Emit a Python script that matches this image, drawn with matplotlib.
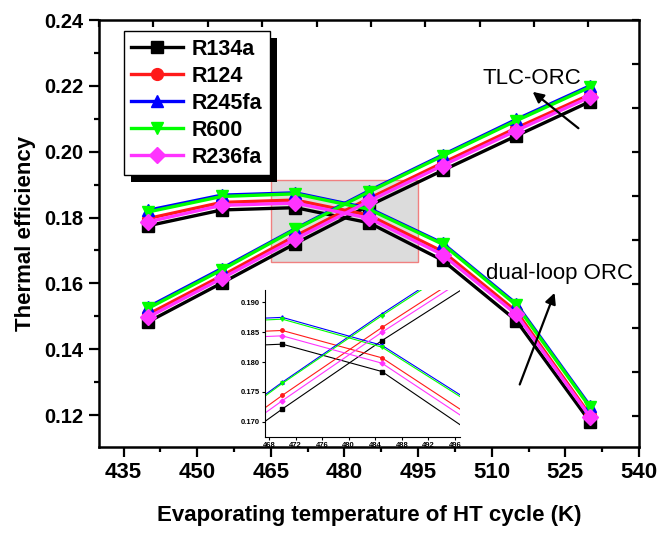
import numpy as np
import matplotlib
matplotlib.use("Agg")
import matplotlib.pyplot as plt
from matplotlib.patches import Rectangle
from matplotlib.ticker import MultipleLocator, FormatStrFormatter

plt.rcParams['font.family'] = ['Liberation Sans', 'DejaVu Sans']

# ---------------- data ----------------
temps = [440, 455, 470, 485, 500, 515, 530]
refrigerants = ["R134a", "R124", "R245fa", "R600", "R236fa"]

tlc_R134a  = [0.1483, 0.1601, 0.1721, 0.1836, 0.1943, 0.2048, 0.2152]
tlc_R124   = [0.1506, 0.1623, 0.1744, 0.1858, 0.1966, 0.2072, 0.2173]
tlc_R245fa = [0.1528, 0.1645, 0.1766, 0.1881, 0.1990, 0.2098, 0.2200]
tlc_R600   = [0.1524, 0.1641, 0.1764, 0.1878, 0.1987, 0.2094, 0.2196]
tlc_R236fa = [0.1497, 0.1615, 0.1735, 0.1850, 0.1958, 0.2064, 0.2166]

dual_R134a  = [0.1775, 0.1823, 0.1830, 0.1784, 0.1670, 0.1487, 0.1180]
dual_R124   = [0.1797, 0.1846, 0.1853, 0.1807, 0.1697, 0.1515, 0.1200]
dual_R245fa = [0.1822, 0.1868, 0.1875, 0.1828, 0.1722, 0.1538, 0.1228]
dual_R600   = [0.1817, 0.1864, 0.1872, 0.1825, 0.1719, 0.1534, 0.1224]
dual_R236fa = [0.1787, 0.1837, 0.1844, 0.1798, 0.1687, 0.1506, 0.1195]

tlc = [tlc_R134a, tlc_R124, tlc_R245fa, tlc_R600, tlc_R236fa]
dual = [dual_R134a, dual_R124, dual_R245fa, dual_R600, dual_R236fa]

colors = ["#000000", "#ff1a1a", "#0000ff", "#00ff00", "#ff33ff"]
markers = ["s", "o", "^", "v", "D"]

x_ticks = [435, 450, 465, 480, 495, 510, 525, 540]
y_ticks = [0.12, 0.14, 0.16, 0.18, 0.20, 0.22, 0.24]
inset_x_ticks = [468, 472, 476, 480, 484, 488, 492, 496]
inset_y_ticks = [0.170, 0.175, 0.180, 0.185, 0.190]

# ---------------- figure ----------------
W, H = 659, 534
fig = plt.figure(figsize=(W / 100, H / 100), dpi=100)
fig.patch.set_facecolor("white")

L, R, T, B = 99, 639, 20, 447
ax = fig.add_axes([L / W, (H - B) / H, (R - L) / W, (B - T) / H])

# zoom-region rectangle
ax.add_patch(Rectangle((465, 0.1665), 30, 0.025, facecolor="#dcdcdc",
                       edgecolor="#f08080", lw=1.0, zorder=1))

handles = []
for name, ys_t, ys_d, c, m in zip(refrigerants, tlc, dual, colors, markers):
    h, = ax.plot(temps, ys_t, color=c, marker=m, lw=2.4, ms=8.5,
                 markeredgecolor=c, zorder=3, label=name)
    ax.plot(temps, ys_d, color=c, marker=m, lw=2.4, ms=8.5,
            markeredgecolor=c, zorder=3)
    handles.append(h)

ax.set_xlim(430, 540)
ax.set_ylim(0.1103, 0.24)
ax.set_xticks(x_ticks)
ax.set_yticks(y_ticks)
ax.xaxis.set_minor_locator(MultipleLocator(7.5))
ax.yaxis.set_minor_locator(MultipleLocator(0.01))
ax.yaxis.set_major_formatter(FormatStrFormatter("%.2f"))
for s in ax.spines.values():
    s.set_linewidth(1.8)
ax.tick_params(which="major", direction="out", length=7, width=1.6, pad=4)
ax.tick_params(which="minor", direction="out", length=3.5, width=1.6)
ax.tick_params(axis="x", labelsize=16)
ax.tick_params(axis="y", labelsize=14.5)
for lab in ax.get_xticklabels() + ax.get_yticklabels():
    lab.set_fontweight("bold")

ax.set_xlabel("Evaporating temperature of HT cycle (K)", fontsize=16,
              fontweight="bold", labelpad=16)
ax.set_ylabel("Thermal efficiency", fontsize=16, fontweight="bold", labelpad=6)

# mirrored top / right ticks
axT = ax.twiny()
axT.set_xlim(0, 9.93)
axT.set_xticks(range(10))
axT.tick_params(axis="x", direction="in", length=5, width=1.6, labeltop=False)
axR = ax.twinx()
axR.set_ylim(9.7, 0)
axR.set_yticks(range(10))
axR.tick_params(axis="y", direction="in", length=5, width=1.6, labelright=False)
for a in (axT, axR):
    for s in a.spines.values():
        s.set_visible(False)

# annotations
ax.annotate("", xy=(517.9, 0.2187), xytext=(528.1, 0.2066),
            arrowprops=dict(arrowstyle="-|>", color="black", lw=1.6,
                            mutation_scale=16), zorder=6)
ax.text(518.1, 0.2223, "TLC-ORC", fontsize=16, ha="center", va="center")
ax.annotate("", xy=(523.0, 0.1579), xytext=(515.5, 0.1285),
            arrowprops=dict(arrowstyle="-|>", color="black", lw=1.6,
                            mutation_scale=16), zorder=6)
ax.text(523.8, 0.1630, "dual-loop ORC", fontsize=16, ha="center", va="center")

# legend
leg = ax.legend(handles=handles, loc="upper left",
                bbox_to_anchor=(0.046, 0.974), borderaxespad=0,
                prop={"weight": "bold", "size": 15.5},
                handlelength=2.4, labelspacing=0.28, borderpad=0.35,
                handletextpad=0.4, fancybox=False, framealpha=1,
                edgecolor="black")
leg.get_frame().set_linewidth(1.0)
leg.set_zorder(10)

# inset
iL, iR, iT, iB = 265, 460, 290, 437
axi = fig.add_axes([iL / W, (H - iB) / H, (iR - iL) / W, (iB - iT) / H])
axi.patch.set_alpha(0)
for ys_t, ys_d, c, m in zip(tlc, dual, colors, markers):
    axi.plot(temps, ys_t, color=c, marker=m, lw=0.8, ms=2.5)
    axi.plot(temps, ys_d, color=c, marker=m, lw=0.8, ms=2.5)
axi.set_xlim(467.4, 496.75)
axi.set_ylim(0.1674, 0.1921)
axi.set_xticks(inset_x_ticks)
axi.set_yticks(inset_y_ticks)
axi.yaxis.set_major_formatter(FormatStrFormatter("%.3f"))
axi.spines["top"].set_visible(False)
axi.spines["right"].set_visible(False)
axi.spines["left"].set_linewidth(0.8)
axi.spines["bottom"].set_linewidth(0.8)
axi.tick_params(direction="out", length=2, width=0.8, labelsize=5.5, pad=1.5)
for lab in axi.get_xticklabels() + axi.get_yticklabels():
    lab.set_fontweight("bold")

# legend shadow
fig.canvas.draw()
bb = leg.get_frame().get_window_extent()
shadow = Rectangle((bb.x0 + 7, bb.y0 - 7), bb.width, bb.height,
                   transform=None, facecolor="black", edgecolor="none",
                   zorder=9, clip_on=False)
ax.add_patch(shadow)

fig.savefig("out.png", dpi=100, facecolor="white")
